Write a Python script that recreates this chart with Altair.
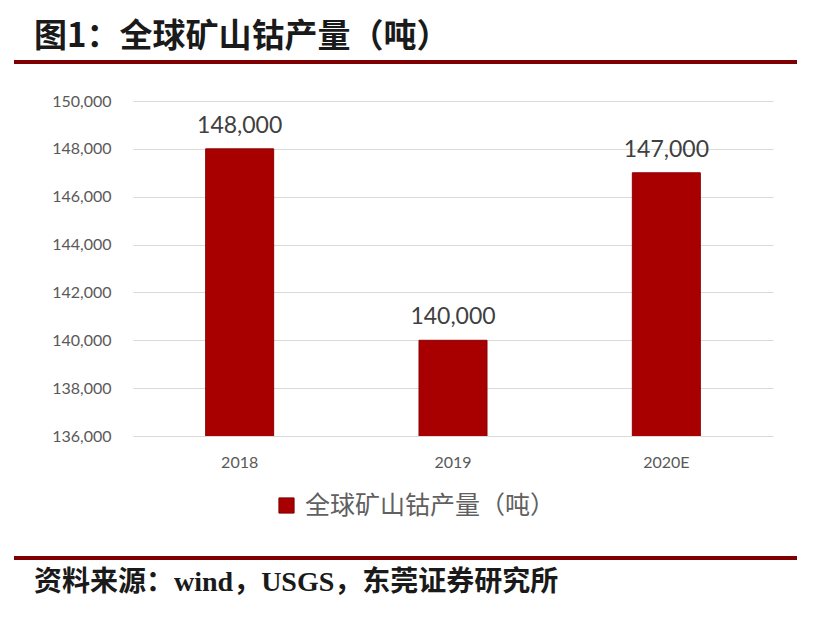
import altair as alt
import pandas as pd

categories = ["2018", "2019", "2020E"]
values = [148000, 140000, 147000]
series_name = "全球矿山钴产量（吨）"
title_text = "图1：全球矿山钴产量（吨）"
source_text = "资料来源：wind，USGS，东莞证券研究所"
y_ticks = [136000, 138000, 140000, 142000, 144000, 146000, 148000, 150000]

df = pd.DataFrame({"year": categories, "value": values, "series": [series_name] * 3})

W, H = 640, 335
BAR = "#A80000"
LINE = "#7E0000"

x_enc = alt.X("year:N", sort=categories, title=None,
              scale=alt.Scale(paddingInner=0, paddingOuter=0),
              axis=alt.Axis(labelAngle=0, labelFont="Lato", labelFontSize=16,
                            labelColor="#595959", labelPadding=18, ticks=False,
                            domain=False))
y_enc = alt.Y("value:Q", title=None,
              scale=alt.Scale(domain=[136000, 150000], zero=False, nice=False),
              axis=alt.Axis(values=y_ticks, format=",.0f", labelFont="Lato",
                            labelFontSize=16, labelColor="#595959", labelPadding=22,
                            ticks=False, domain=False, gridColor="#d9d9d9",
                            gridWidth=1.2))

base = alt.Chart(df)

bars = base.mark_bar(size=68, stroke="#8E0000", strokeWidth=1, clip=True).encode(
    x=x_enc,
    y=y_enc,
    color=alt.Color("series:N", scale=alt.Scale(range=[BAR]), title=None,
                    legend=alt.Legend(orient="none", legendX=141, legendY=392,
                                      symbolType="square", symbolSize=230,
                                      symbolStrokeColor="#7E0000",
                                      symbolStrokeWidth=1,
                                      labelFont="Noto Sans CJK SC",
                                      labelFontSize=25, labelColor="#606060",
                                      labelLimit=400, labelOffset=6)),
)

labels = base.mark_text(baseline="alphabetic", dy=-16, font="Lato", fontSize=23,
                        color="#404040").encode(
    x=x_enc,
    y=y_enc,
    text=alt.Text("value:Q", format=",.0f"),
)

title = alt.Chart(pd.DataFrame({"t": [title_text]})).mark_text(
    align="left", baseline="middle", font="Noto Sans CJK SC", fontWeight="bold",
    fontSize=33, color="#1a1a1a").encode(
    x=alt.value(-99), y=alt.value(-64), text="t:N")

source = alt.Chart(pd.DataFrame({"t": [source_text]})).mark_text(
    align="left", baseline="middle", font="Liberation Serif, Noto Sans CJK SC",
    fontWeight="bold", fontSize=28, color="#1a1a1a").encode(
    x=alt.value(-99), y=alt.value(482), text="t:N")

top_line = alt.Chart(pd.DataFrame({"a": [0]})).mark_rule(
    color=LINE, strokeWidth=4).encode(
    x=alt.value(-119), x2=alt.value(664), y=alt.value(-39))

bottom_line = alt.Chart(pd.DataFrame({"a": [0]})).mark_rule(
    color=LINE, strokeWidth=4).encode(
    x=alt.value(-119), x2=alt.value(664), y=alt.value(457))

chart = alt.layer(bars, labels, title, source, top_line, bottom_line).properties(
    width=W, height=H,
    background="white",
    autosize=alt.AutoSizeParams(type="none"),
    padding={"left": 125, "top": 93, "right": 30, "bottom": 170},
).configure_view(stroke=None)

chart.save("out.html", embed_options={"renderer": "svg", "actions": False})
